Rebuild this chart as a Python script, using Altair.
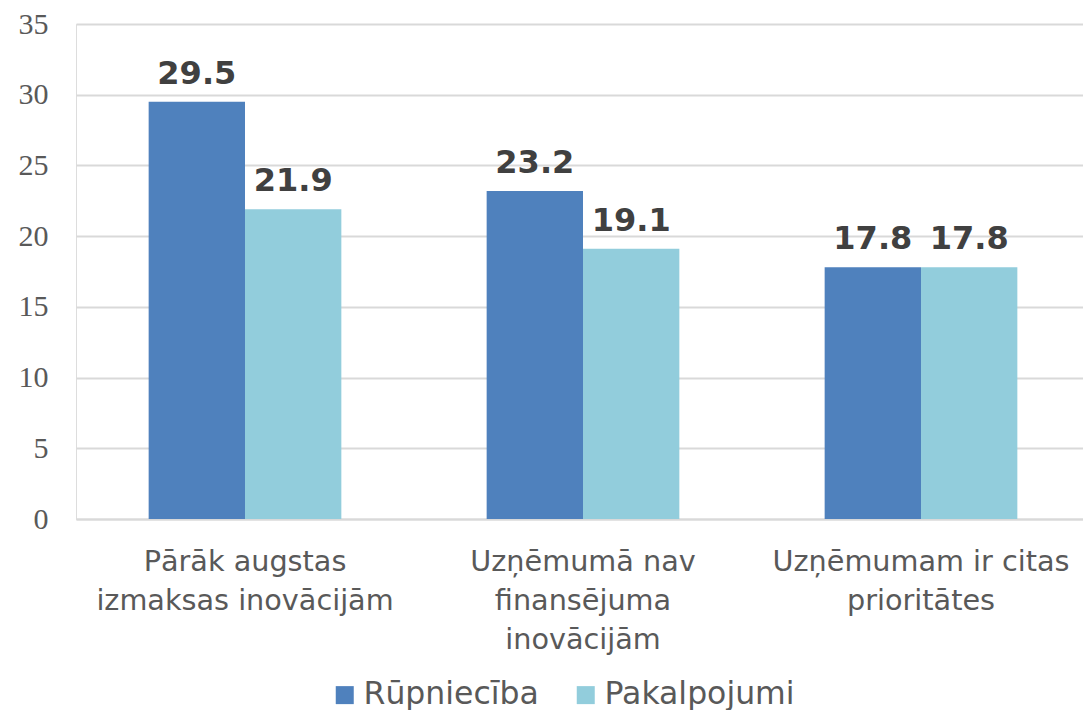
import altair as alt
import pandas as pd

categories = ["Pārāk augstas|izmaksas inovācijām", "Uzņēmumā nav|finansējuma|inovācijām", "Uzņēmumam ir citas|prioritātes"]
series = ["Rūpniecība", "Pakalpojumi"]
rupnieciba = [29.5, 23.2, 17.8]
pakalpojumi = [21.9, 19.1, 17.8]
colors = ["#4F81BD", "#92CDDC"]

rows = []
for i, c in enumerate(categories):
    rows.append({"cat": c, "series": series[0], "value": rupnieciba[i]})
    rows.append({"cat": c, "series": series[1], "value": pakalpojumi[i]})
df = pd.DataFrame(rows)

x = alt.X("cat:N", sort=categories, title=None,
          scale=alt.Scale(paddingInner=0, paddingOuter=0, range=[0, 1014]),
          axis=alt.Axis(labelExpr="split(datum.label, '|')", labelAngle=0,
                        labelFont="DejaVu Sans", labelFontSize=28.7, labelColor="#595959",
                        labelLineHeight=39, labelPadding=28, ticks=False,
                        domainColor="#D9D9D9", domainWidth=2, labelLimit=400))
xo = alt.XOffset("series:N", sort=series,
                 scale=alt.Scale(paddingOuter=0.754, paddingInner=0))
y = alt.Y("value:Q", title=None,
          scale=alt.Scale(domain=[0, 35], nice=False),
          axis=alt.Axis(values=[0, 5, 10, 15, 20, 25, 30, 35], domain=False, ticks=False,
                        labelFont="Liberation Serif", labelFontSize=30, labelColor="#595959",
                        labelPadding=28, gridColor="#D9D9D9", gridWidth=2))
color = alt.Color("series:N", sort=series,
                  scale=alt.Scale(domain=series, range=colors),
                  legend=alt.Legend(title=None, orient="none", direction="horizontal",
                                    legendX=253, legendY=655,
                                    symbolType="square", symbolSize=324, symbolStrokeWidth=0,
                                    labelFont="DejaVu Sans", labelFontSize=31.5, labelColor="#595959",
                                    labelLimit=400,
                                    symbolOffset=0, labelOffset=3, columnPadding=31))

base = alt.Chart(df)
bars = base.mark_bar(opacity=1).encode(x=x, xOffset=xo, y=y, color=color)
text = base.mark_text(font="DejaVu Sans", fontWeight="bold", fontSize=32, color="#404040",
                      baseline="alphabetic", dy=-18).encode(
    x=alt.X("cat:N", sort=categories), xOffset=alt.XOffset("series:N", sort=series),
    y="value:Q", text=alt.Text("value:Q", format=".1f"))

chart = (bars + text).properties(
    width=1007, height=495,
    autosize=alt.AutoSizeParams(type="none"),
    padding={"left": 68, "top": 16, "right": 0, "bottom": 191},
).configure_view(stroke=None).configure(background="white")

chart.save("out.html", embed_options={"renderer": "svg", "actions": False})
